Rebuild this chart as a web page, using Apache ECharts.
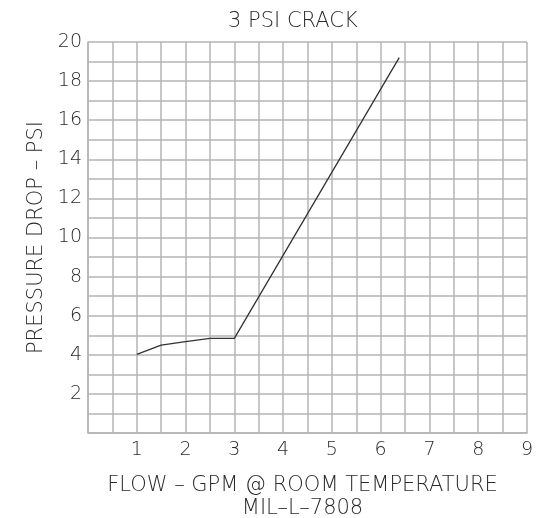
<!DOCTYPE html>
<html>
<head>
<meta charset="utf-8">
<script src="https://cdn.jsdelivr.net/npm/echarts@6/dist/echarts.min.js"></script>
<style>
  html, body { margin: 0; padding: 0; background: #fff; }
  #chart { width: 543px; height: 518px; }
</style>
</head>
<body>
<div id="chart"></div>
<script>
// Flow (GPM) vs. pressure drop (PSI) for the 3 PSI crack valve
const flowGpm = [1.0, 1.5, 2.0, 2.5, 3.0, 6.38];
const pressureDropPsi = [4.02, 4.5, 4.67, 4.84, 4.84, 19.2];

const chartTitle = '3 PSI CRACK';
const xAxisTitle = 'FLOW – GPM @ ROOM TEMPERATURE\nMIL–L–7808';
const yAxisTitle = 'PRESSURE DROP – PSI';

const xLabelValues = [1, 2, 3, 4, 5, 6, 7, 8, 9];
const yLabelValues = [2, 4, 6, 8, 10, 12, 14, 16, 18, 20];

const FONT = '"DejaVu Sans", sans-serif';
const TEXT_COLOR = '#2a2a2a';
const GRID_COLOR = '#b4b4b4';

const chart = echarts.init(document.getElementById('chart'), null, { renderer: 'canvas' });

chart.setOption({
  animation: false,
  backgroundColor: '#ffffff',
  title: {
    text: chartTitle,
    left: 223,
    top: 6,
    textStyle: { fontFamily: FONT, fontSize: 21, fontWeight: 200, color: TEXT_COLOR }
  },
  grid: { left: 88, top: 42, right: 16, bottom: 85, containLabel: false, outerBoundsMode: 'none' },
  xAxis: {
    type: 'value',
    min: 0,
    max: 9,
    interval: 0.5,
    name: xAxisTitle,
    nameLocation: 'middle',
    nameGap: 38,
    nameTextStyle: { fontFamily: FONT, fontSize: 21, fontWeight: 200, color: TEXT_COLOR, lineHeight: 23, padding: [3, 0, 0, -10] },
    axisLine: { show: true, lineStyle: { color: GRID_COLOR, width: 1.5 } },
    axisTick: { show: false },
    splitLine: { show: true, lineStyle: { color: GRID_COLOR, width: 1.5 } },
    axisLabel: {
      fontFamily: FONT, fontSize: 19, fontWeight: 200, color: TEXT_COLOR, margin: 8,
      formatter: v => (xLabelValues.indexOf(v) >= 0 ? String(v) : '')
    }
  },
  yAxis: {
    type: 'value',
    min: 0,
    max: 20,
    interval: 1,
    name: yAxisTitle,
    nameLocation: 'middle',
    nameRotate: 90,
    nameGap: 41,
    nameTextStyle: { fontFamily: FONT, fontSize: 21, fontWeight: 200, color: TEXT_COLOR },
    axisLine: { show: true, lineStyle: { color: GRID_COLOR, width: 1.5 } },
    axisTick: { show: false },
    splitLine: { show: true, lineStyle: { color: GRID_COLOR, width: 1.5 } },
    axisLabel: {
      fontFamily: FONT, fontSize: 19, fontWeight: 200, color: TEXT_COLOR, margin: 6,
      formatter: v => (yLabelValues.indexOf(v) >= 0 ? String(v) : '')
    }
  },
  series: [{
    type: 'line',
    data: flowGpm.map((x, i) => [x, pressureDropPsi[i]]),
    smooth: false,
    showSymbol: false,
    lineStyle: { color: '#333333', width: 1.3 }
  }]
});
</script>
</body>
</html>
